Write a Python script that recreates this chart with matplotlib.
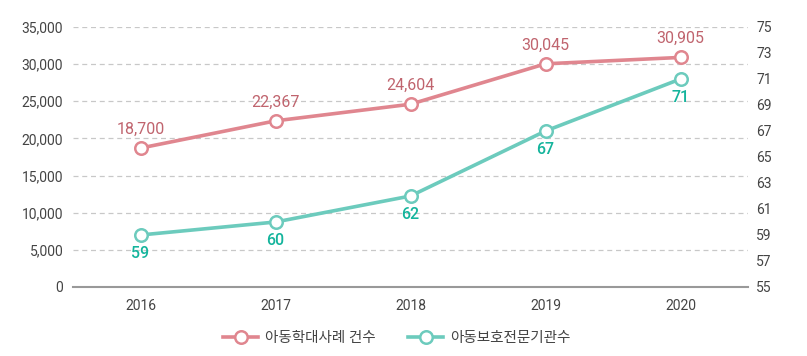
import matplotlib
matplotlib.use("Agg")
import matplotlib.pyplot as plt
from matplotlib.ticker import FuncFormatter

plt.rcParams['font.family'] = ['Roboto', 'Noto Sans CJK KR', 'DejaVu Sans']

years = ['2016', '2017', '2018', '2019', '2020']
abuse_cases = [18700, 22367, 24604, 30045, 30905]
agencies = [59, 60, 62, 67, 71]
series_names = ['아동학대사례 건수', '아동보호전문기관수']

red_line = '#e0868f'
red_text = '#c0646e'
teal_line = '#6ccbbd'
teal_text = '#14b49c'
tick_col = '#444444'

fig = plt.figure(figsize=(8.07, 3.56), dpi=100)
ax = fig.add_axes([73/807, 1-287/356, (748-73)/807, (287-27)/356])
ax2 = ax.twinx()

x = list(range(len(years)))
l1, = ax.plot(x, abuse_cases, color=red_line, lw=2.6, marker='o', ms=9,
              mfc='white', mec=red_line, mew=1.8, zorder=5, clip_on=False)
l2, = ax2.plot(x, agencies, color=teal_line, lw=2.6, marker='o', ms=9,
               mfc='white', mec=teal_line, mew=1.8, zorder=5, clip_on=False)

for xi, v in zip(x, abuse_cases):
    ax.annotate(f'{v:,}', (xi, v), xytext=(0, 8), textcoords='offset points',
                ha='center', va='bottom', color=red_text, fontsize=11.5)
for xi, v in zip(x, agencies):
    ax2.annotate(f'{v}', (xi, v), xytext=(0, -8), textcoords='offset points',
                 ha='center', va='top', color=teal_text, fontsize=11.5, fontweight='medium')

ax.set_xlim(-0.5, len(years) - 0.5)
ax.set_ylim(0, 35000)
ax.set_yticks(range(0, 35001, 5000))
ax.yaxis.set_major_formatter(FuncFormatter(lambda v, p: f'{int(v):,}'))
ax2.set_ylim(55, 75)
ax2.set_yticks(range(55, 76, 2))
ax.set_xticks(x)
ax.set_xticklabels(years)

ax.grid(axis='y', color='#c8c8c8', ls=(0, (4, 3)), lw=0.9)
ax.set_axisbelow(True)
for a in (ax, ax2):
    for s in ['top', 'left', 'right', 'bottom']:
        a.spines[s].set_visible(False)
    a.tick_params(length=0, labelsize=10, colors=tick_col)
ax.spines['bottom'].set_visible(True)
ax.spines['bottom'].set_color('#999999')
ax.spines['bottom'].set_linewidth(1.5)
ax.tick_params(axis='y', pad=7)
ax.tick_params(axis='x', pad=9)
ax2.tick_params(axis='y', pad=6)

leg = fig.legend([l1, l2], series_names, loc='center', bbox_to_anchor=(397/807, 1 - 338/356),
                 ncol=2, frameon=False, fontsize=10.5, handlelength=2.4,
                 columnspacing=2.2, handletextpad=0.5, labelcolor='#444444')

fig.savefig('out.png', dpi=100, facecolor='white')
